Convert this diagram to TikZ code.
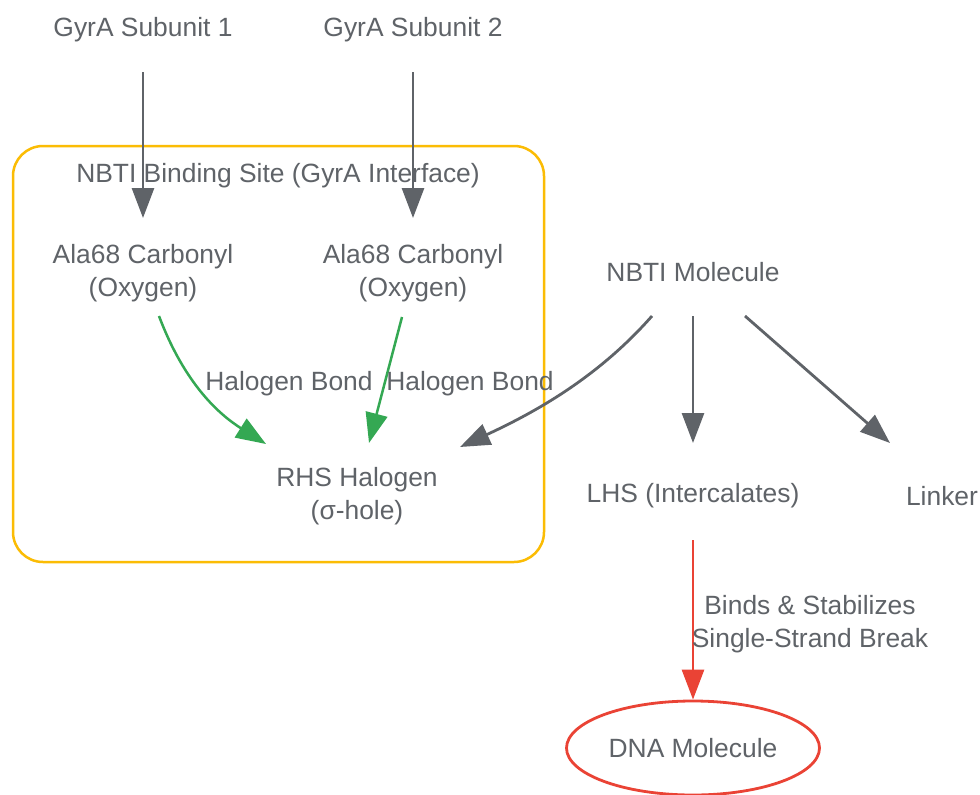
\documentclass[tikz,border=0pt]{standalone}
\usepackage{fontspec}
\setmainfont{Liberation Sans}
\usetikzlibrary{arrows.meta,calc,shapes.geometric}
\definecolor{tx}{HTML}{5F6368}
\definecolor{ygold}{HTML}{FBBC04}
\definecolor{ggreen}{HTML}{34A853}
\definecolor{rred}{HTML}{EA4335}
\begin{document}
\begin{tikzpicture}[x=1pt,y=-1pt,
  every node/.style={text=tx, font=\fontsize{26.4}{33}\selectfont, align=center, inner sep=0pt},
  grayarrow/.style={draw=tx, line width=2.8pt, -{Triangle[length=30pt,width=22pt]}},
  greenarrow/.style={draw=ggreen, line width=2.5pt, -{Triangle[length=30pt,width=22pt]}},
  redarrow/.style={draw=rred, line width=2.8pt, -{Triangle[length=30pt,width=22pt]}},
  cluster/.style={draw=ygold, line width=2.5pt, rounded corners=30pt},
  dnanode/.style={ellipse, draw=rred, line width=2.8pt, minimum width=253pt, minimum height=94pt}]
\fill[white] (0,0) rectangle (980,795);
\useasboundingbox (0,0) rectangle (980,795);
% cluster
\draw[cluster] (13,146) rectangle (544,562);
\node (clab) at (278,176) {NBTI Binding Site (GyrA Interface)};
% nodes
\node (g1) at (143,30) {GyrA Subunit 1};
\node (g2) at (413,30) {GyrA Subunit 2};
\node (a1) at (143,273) {Ala68 Carbonyl\\(Oxygen)};
\node (a2) at (413,273) {Ala68 Carbonyl\\(Oxygen)};
\node (rhs) at (357,496) {RHS Halogen\\(σ-hole)};
\node (nbti) at (693,272) {NBTI Molecule};
\node (lhs) at (693,496) {LHS (Intercalates)};
\node (link) at (942,496) {Linker};
\node[dnanode] (dna) at (693,748) {DNA Molecule};
% edges
\draw[grayarrow] ($(g1.center)+(0,42)$) -- ($(a1.center)+(0,-55)$);
\draw[grayarrow] ($(g2.center)+(0,42)$) -- ($(a2.center)+(0,-55)$);
\draw[greenarrow] ($(a1.center)+(16,43)$) .. controls ($(a1.center)+(42,112)$) and ($(a1.center)+(77,142)$) .. ($(rhs.center)+(-91,-52)$);
\node (hb1t) at (289,384) {Halogen Bond};
\draw[greenarrow] ($(a2.center)+(-11,44)$) -- ($(rhs.center)+(12,-53)$);
\node (hb2t) at (470,384) {Halogen Bond};
\draw[grayarrow] ($(nbti.center)+(-41,44)$) .. controls ($(nbti.center)+(-93,103)$) and ($(nbti.center)+(-153,138)$) .. ($(rhs.center)+(103,-49)$);
\draw[grayarrow] ($(nbti.center)+(0,44)$) -- ($(lhs.center)+(0,-53)$);
\draw[grayarrow] ($(nbti.center)+(52,44)$) -- ($(link.center)+(-52,-53)$);
\draw[redarrow] ($(lhs.center)+(0,44)$) -- (dna.north);
\node (bst) at (810,624) {Binds \& Stabilizes\\Single-Strand Break};
\end{tikzpicture}
\end{document}
